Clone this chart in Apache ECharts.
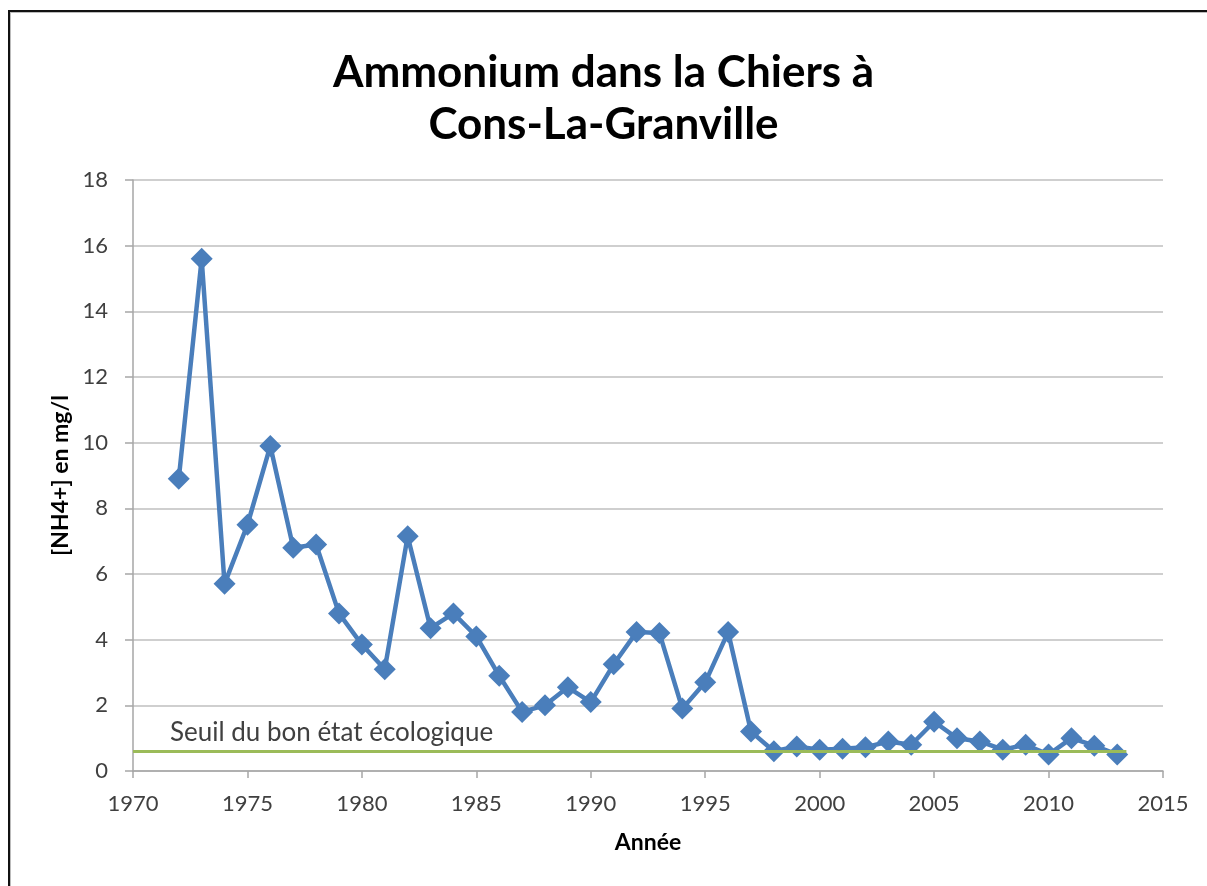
<!DOCTYPE html>
<html>
<head>
<meta charset="utf-8">
<script src="https://cdn.jsdelivr.net/npm/echarts@6/dist/echarts.min.js"></script>
<style>
  html, body { margin: 0; padding: 0; background: #fff; }
  #frame {
    position: absolute; left: 8px; top: 10px; width: 1240px; height: 920px;
    border-left: 2px solid #111; border-top: 2px solid #111;
    box-shadow: inset 1px 1px 0 #bbb;
  }
  #main { position: absolute; left: 0; top: 0; width: 1207px; height: 886px; }
</style>
</head>
<body>
<div id="frame"></div>
<div id="main"></div>
<script>
// annees et concentrations
var years = [1972, 1973, 1974, 1975, 1976, 1977, 1978, 1979, 1980, 1981,
  1982, 1983, 1984, 1985, 1986, 1987, 1988, 1989, 1990, 1991,
  1992, 1993, 1994, 1995, 1996, 1997, 1998, 1999, 2000, 2001,
  2002, 2003, 2004, 2005, 2006, 2007, 2008, 2009, 2010, 2011,
  2012, 2013];
var nh4 = [8.9, 15.6, 5.7, 7.5, 9.9, 6.8, 6.9, 4.8, 3.85, 3.1,
  7.15, 4.35, 4.8, 4.1, 2.9, 1.8, 2.0, 2.55, 2.1, 3.25,
  4.23, 4.2, 1.9, 2.7, 4.23, 1.2, 0.6, 0.75, 0.65, 0.68,
  0.72, 0.9, 0.8, 1.5, 1.0, 0.9, 0.65, 0.8, 0.5, 1.0,
  0.77, 0.5];
var seuil = 0.6;
var seuilStart = 1970;
var seuilEnd = 2013.4;
var yTicks = [0, 2, 4, 6, 8, 10, 12, 14, 16, 18];

var chart = echarts.init(document.getElementById('main'));
var font = 'Lato, "Open Sans", sans-serif';

var points = years.map(function (y, i) { return [y, nh4[i]]; });

var option = {
  backgroundColor: 'transparent',
  animation: false,
  title: {
    text: 'Ammonium dans la Chiers à\nCons-La-Granville',
    left: 'center',
    top: 42,
    textStyle: {
      fontFamily: font, fontSize: 44, fontWeight: 'bold', color: '#000',
      lineHeight: 52
    }
  },
  grid: { left: 133, right: 44, top: 180, bottom: 115 },
  xAxis: {
    type: 'value',
    min: 1970, max: 2015, interval: 5,
    name: 'Année',
    nameLocation: 'middle',
    nameGap: 60,
    nameTextStyle: { fontFamily: font, fontSize: 23, fontWeight: 'bold', color: '#000' },
    axisLine: { lineStyle: { color: '#a6a6a6', width: 1.5 } },
    axisTick: { show: true, length: 7, lineStyle: { color: '#a6a6a6', width: 1.5 } },
    axisLabel: {
      fontFamily: font, fontSize: 22, color: '#404040', margin: 22,
      formatter: function (v) { return String(v); }
    },
    splitLine: { show: false }
  },
  yAxis: {
    type: 'value',
    min: yTicks[0], max: yTicks[yTicks.length - 1], interval: 2,
    name: '[NH4+] en mg/l',
    nameLocation: 'middle',
    nameGap: 59,
    nameRotate: 90,
    nameTextStyle: { fontFamily: font, fontSize: 23, fontWeight: 'bold', color: '#000' },
    axisLine: { show: true, lineStyle: { color: '#a6a6a6', width: 1.5 } },
    axisTick: { show: true, length: 8, lineStyle: { color: '#a6a6a6', width: 1.5 } },
    axisLabel: { fontFamily: font, fontSize: 22, color: '#404040', margin: 25 },
    splitLine: { show: true, lineStyle: { color: '#bfbfbf', width: 1.5 } }
  },
  series: [
    {
      name: 'NH4+',
      type: 'line',
      data: points,
      symbol: 'diamond',
      symbolSize: 22,
      itemStyle: { color: '#4a7ebb' },
      lineStyle: { color: '#4a7ebb', width: 4.5 },
      z: 2
    },
    {
      name: 'Seuil',
      type: 'line',
      data: [],
      z: 3,
      markLine: {
        silent: true,
        symbol: 'none',
        lineStyle: { color: '#9bbb59', width: 3, type: 'solid' },
        label: {
          show: true,
          position: 'insideStartTop',
          formatter: 'Seuil du bon état écologique',
          fontFamily: font, fontSize: 26, color: '#404040',
          distance: [37, 6]
        },
        data: [[
          { coord: [seuilStart, seuil] },
          { coord: [seuilEnd, seuil] }
        ]]
      }
    }
  ]
};
chart.setOption(option);
</script>
</body>
</html>
